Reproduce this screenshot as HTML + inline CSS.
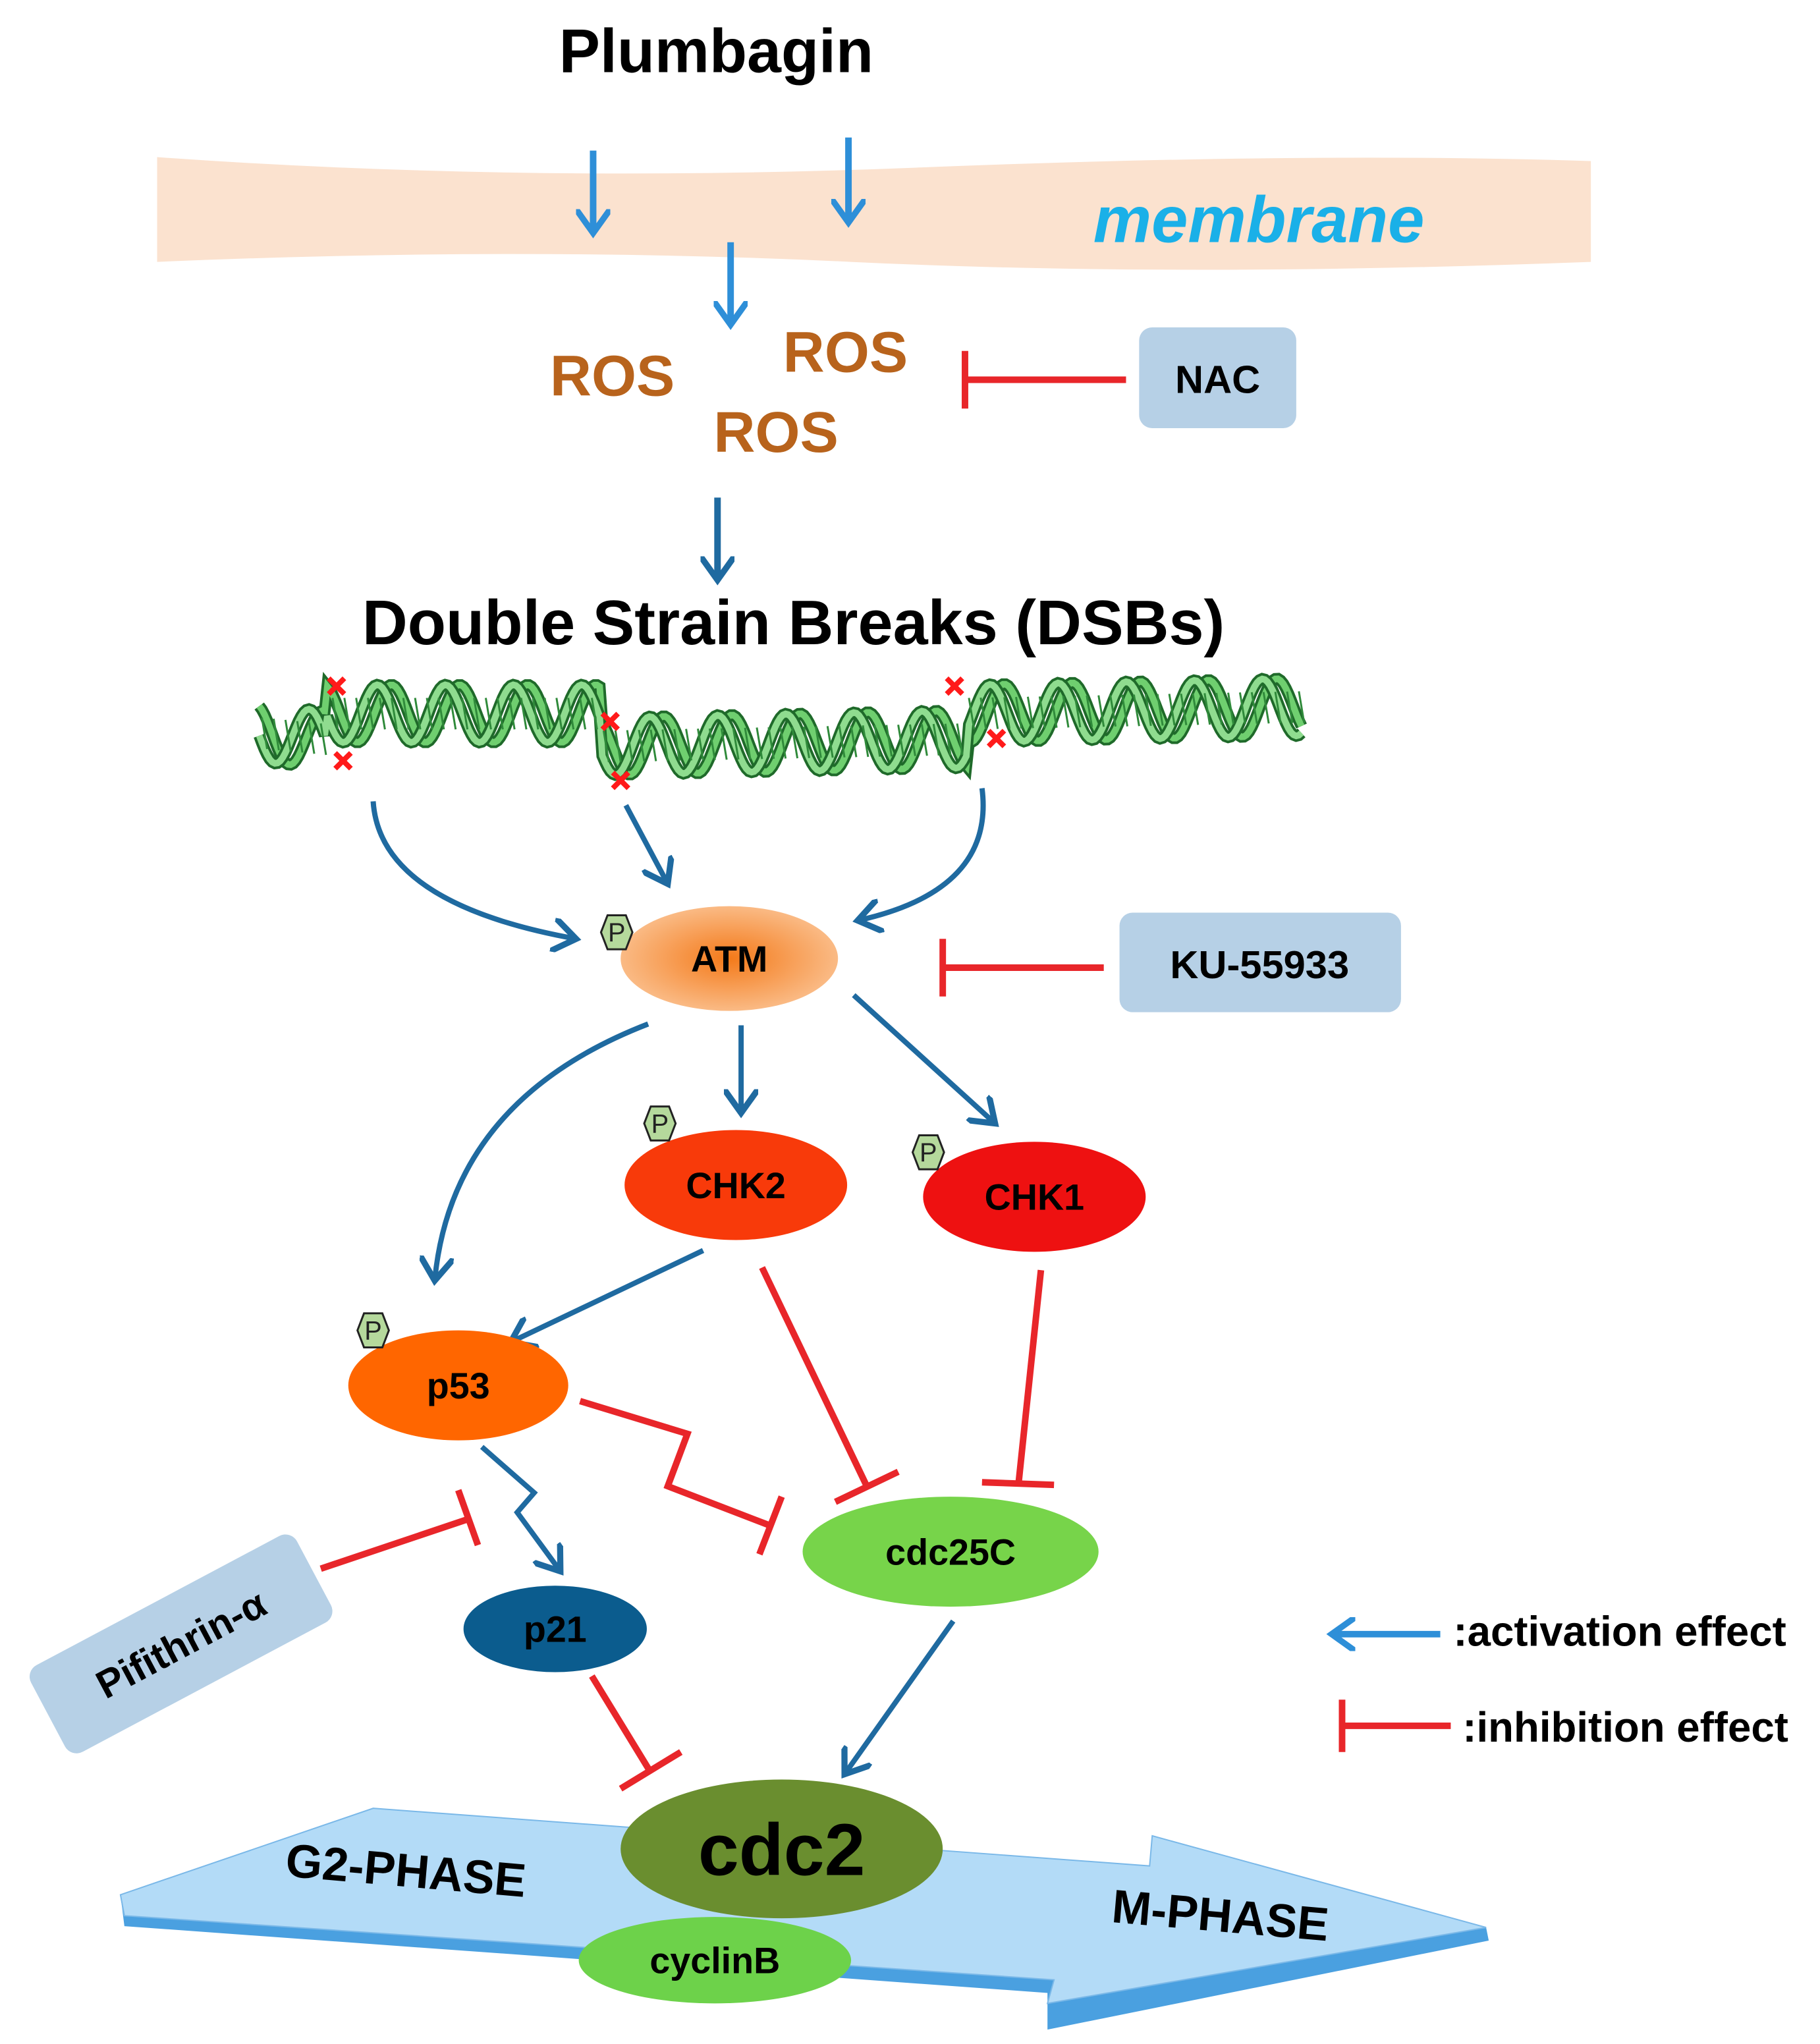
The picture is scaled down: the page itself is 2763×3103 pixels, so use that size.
<!DOCTYPE html>
<html><head><meta charset="utf-8"><style>
html,body{margin:0;padding:0;background:#fff;}
svg{display:block;}
text{font-family:"Liberation Sans",sans-serif;font-weight:bold;}
</style></head><body>
<svg width="2763" height="3103" viewBox="0 0 1390 1561" preserveAspectRatio="none" xmlns="http://www.w3.org/2000/svg">
<defs>
<radialGradient id="atm" cx="50%" cy="50%" r="60%"><stop offset="0" stop-color="#f47a1a"/><stop offset="1" stop-color="#fbc79a"/></radialGradient>
<marker id="ab2" markerWidth="26" markerHeight="26" refX="7" refY="5" orient="auto" markerUnits="userSpaceOnUse" viewBox="0 0 10 10"><path d="M0,0 L7,5 L0,10" fill="none" stroke="#2e8fd8" stroke-width="1.8"/></marker>
<marker id="ad" markerWidth="26" markerHeight="26" refX="7" refY="5" orient="auto" markerUnits="userSpaceOnUse" viewBox="0 0 10 10"><path d="M0,0 L7,5 L0,10" fill="none" stroke="#1f6aa0" stroke-width="1.8"/></marker>
</defs>
<text x="547" y="55" font-size="47" text-anchor="middle" fill="#000">Plumbagin</text>
<path d="M120,120 Q400,140 700,128 T1215,123 L1215,200 Q900,212 650,200 T120,200 Z" fill="#fbe2cf"/>
<text x="835" y="185" font-size="50" font-style="italic" fill="#1ab0e8">membrane</text>
<g stroke="#2e8fd8" stroke-width="5" fill="none" marker-end="url(#ab2)">
<line x1="453" y1="115" x2="453" y2="178"/><line x1="648" y1="105" x2="648" y2="170"/><line x1="558" y1="185" x2="558" y2="248"/>
</g>
<g fill="#b8631c" font-size="44"><text x="420" y="302">ROS</text><text x="598" y="284">ROS</text><text x="545" y="345">ROS</text></g>
<rect x="870" y="250" width="120" height="77" rx="10" fill="#b6d0e6"/>
<text x="930" y="300" font-size="30" text-anchor="middle">NAC</text>
<g stroke="#e8262a" stroke-width="5" fill="none">
<line x1="860" y1="290" x2="737" y2="290"/><line x1="737" y1="268" x2="737" y2="312"/>
<line x1="843" y1="739" x2="720" y2="739"/><line x1="720" y1="717" x2="720" y2="761"/>
<line x1="582" y1="968" x2="662" y2="1135"/><line x1="638" y1="1147" x2="686" y2="1124"/>
<line x1="795" y1="970" x2="778" y2="1132"/><line x1="750" y1="1132" x2="805" y2="1134"/>
<polyline points="443,1070 525,1095 510,1135 588,1165"/><line x1="580" y1="1187" x2="597" y2="1143"/>
<line x1="245" y1="1198" x2="358" y2="1160"/><line x1="350" y1="1138" x2="365" y2="1180"/>
<line x1="452" y1="1280" x2="496" y2="1352"/><line x1="474" y1="1366" x2="520" y2="1338"/>
<line x1="1108" y1="1318" x2="1025" y2="1318"/><line x1="1025" y1="1298" x2="1025" y2="1338"/>
</g>
<line x1="548" y1="380" x2="548" y2="443" stroke="#1f6aa0" stroke-width="5" marker-end="url(#ad)"/>
<text x="606" y="492" font-size="48" text-anchor="middle">Double Strain Breaks (DSBs)</text>
<g id="dna" fill="none"></g>
<script>
(function(){
 var g=document.getElementById('dna');
 function cy(x){
  if(x<250) return 560+ (x-200)*0.1;
  if(x<460) return 545;
  if(x<740) return 570-(x-460)*0.02;
  return 545-(x-740)*0.02;
 }
 function mk(phase,col,w){
  var d='';
  for(var x=198;x<=995;x+=2){
   var y=cy(x)+22*Math.sin((x/26)*Math.PI+phase);
   d+=(x==198?'M':'L')+x+','+y.toFixed(1)+' ';
  }
  var p=document.createElementNS('http://www.w3.org/2000/svg','path');
  p.setAttribute('d',d);p.setAttribute('stroke',col);p.setAttribute('stroke-width',w);p.setAttribute('fill','none');
  g.appendChild(p);
 }
 mk(0,'#1f6a2a',9);mk(0,'#6fcf6f',5);
 mk(1.3,'#1f6a2a',9);mk(1.3,'#8fdc8f',5);
 for(var x=200;x<995;x+=9){
  var l=document.createElementNS('http://www.w3.org/2000/svg','line');
  var c=cy(x);
  l.setAttribute('x1',x);l.setAttribute('x2',x+4);l.setAttribute('y1',c-12);l.setAttribute('y2',c+12);
  l.setAttribute('stroke','#2f8a3a');l.setAttribute('stroke-width','1.5');
  g.appendChild(l);
 }
})();
</script>
<g stroke="#ff1a1a" stroke-width="4">
<path d="M251,518 l12,12 M263,518 l-12,12 M256,575 l12,12 M268,575 l-12,12 M460,545 l12,12 M472,545 l-12,12 M468,590 l12,12 M480,590 l-12,12 M723,518 l12,12 M735,518 l-12,12 M755,558 l12,12 M767,558 l-12,12"/>
</g>
<g stroke="#1f6aa0" stroke-width="4" fill="none" marker-end="url(#ad)">
<path d="M285,612 Q290,690 440,717"/>
<line x1="478" y1="615" x2="510" y2="675"/>
<path d="M750,602 Q760,680 655,703"/>
<path d="M495,782 Q345,840 332,978"/>
<line x1="566" y1="783" x2="566" y2="850"/>
<line x1="652" y1="760" x2="760" y2="858"/>
<line x1="537" y1="955" x2="390" y2="1025"/>
<polyline points="368,1105 408,1140 395,1155 428,1200"/>
<line x1="728" y1="1238" x2="645" y2="1355"/>
</g>
<line x1="1100" y1="1248" x2="1017" y2="1248" stroke="#2e8fd8" stroke-width="5" marker-end="url(#ab2)"/>
<text x="1110" y="1257" font-size="32">:activation effect</text>
<text x="1117" y="1330" font-size="32">:inhibition  effect</text>
<ellipse cx="557" cy="732" rx="83" ry="40" fill="url(#atm)"/>
<text x="557" y="742" font-size="28" text-anchor="middle">ATM</text>
<rect x="855" y="697" width="215" height="76" rx="10" fill="#b6d0e6"/>
<text x="962" y="747" font-size="30" text-anchor="middle">KU-55933</text>
<ellipse cx="562" cy="905" rx="85" ry="42" fill="#f83a0a"/>
<text x="562" y="915" font-size="28" text-anchor="middle">CHK2</text>
<ellipse cx="790" cy="914" rx="85" ry="42" fill="#ee1111"/>
<text x="790" y="924" font-size="28" text-anchor="middle">CHK1</text>
<ellipse cx="350" cy="1058" rx="84" ry="42" fill="#ff6600"/>
<text x="350" y="1068" font-size="28" text-anchor="middle">p53</text>
<ellipse cx="726" cy="1185" rx="113" ry="42" fill="#77d44a"/>
<text x="726" y="1195" font-size="28" text-anchor="middle">cdc25C</text>
<ellipse cx="424" cy="1244" rx="70" ry="33" fill="#0b5c8e"/>
<text x="424" y="1254" font-size="28" text-anchor="middle">p21</text>
<g transform="rotate(-28 138 1255)"><rect x="23" y="1218" width="230" height="75" rx="10" fill="#b6d0e6"/><text x="138" y="1266" font-size="30" text-anchor="middle">Pifithrin-α</text></g>
<g fill="#b5d99c" stroke="#222" stroke-width="1.5">
<polygon points="459,712 464,699 478,699 483,712 478,725 464,725"/>
<polygon points="492,858 497,845 511,845 516,858 511,871 497,871"/>
<polygon points="697,880 702,867 716,867 721,880 716,893 702,893"/>
<polygon points="273,1016 278,1003 292,1003 297,1016 292,1029 278,1029"/>
</g>
<g font-size="20" text-anchor="middle" fill="#222">
<text x="471" y="719" style="font-weight:normal">P</text><text x="504" y="865" style="font-weight:normal">P</text><text x="709" y="887" style="font-weight:normal">P</text><text x="285" y="1023" style="font-weight:normal">P</text></g>
<polygon points="92,1447 95,1471 800,1522 800,1550 1137,1482 1135,1472" fill="#4aa0e0"/>
<polygon points="92,1447 285,1381 878,1425 880,1402 1135,1472 800,1530 805,1512 95,1463" fill="#b3dbf7" stroke="#7ab8e8" stroke-width="1"/>
<text x="217" y="1440" font-size="36" transform="rotate(5 300 1440)">G2-PHASE</text>
<text x="848" y="1475" font-size="36" transform="rotate(5 930 1475)">M-PHASE</text>
<ellipse cx="546" cy="1497" rx="104" ry="33" fill="#6dd24a"/>
<text x="546" y="1507" font-size="28" text-anchor="middle">cyclinB</text>
<ellipse cx="597" cy="1412" rx="123" ry="53" fill="#6a8e2f"/>
<text x="597" y="1432" font-size="56" text-anchor="middle">cdc2</text>
</svg>
</body></html>
